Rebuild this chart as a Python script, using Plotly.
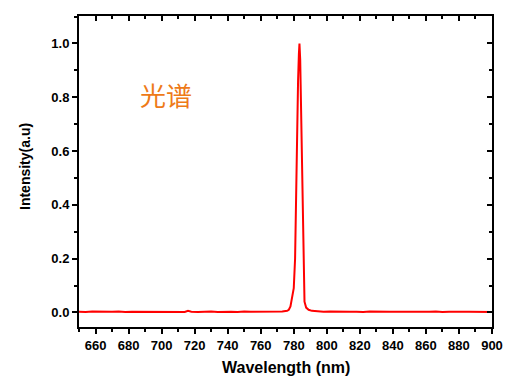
import plotly.graph_objects as go

# Wavelength (nm) and normalized intensity
wavelength = [650, 654, 658, 662, 666, 670, 674, 678, 682, 686, 690, 694, 698, 702, 706,
              710, 714, 716, 718, 722, 726, 730, 734, 738, 742, 746, 750, 754, 758, 762,
              766, 770, 773, 776, 777, 778, 779, 780, 780.8, 781.4, 782, 782.6, 783.1,
              783.45, 783.9, 784.4, 784.9, 785.4, 785.9, 786.5, 787.5, 789, 791, 794,
              798, 802, 806, 810, 814, 818, 822, 826, 830, 834, 838, 842, 846, 850,
              854, 858, 862, 866, 870, 874, 878, 882, 886, 890, 894, 898, 900]
intensity = [0.003, 0.002, 0.004, 0.003, 0.002, 0.003, 0.004, 0.002, 0.003, 0.003, 0.002, 0.004, 0.003, 0.002, 0.003,
             0.003, 0.002, 0.006, 0.003, 0.002, 0.003, 0.004, 0.002, 0.003, 0.003, 0.002, 0.004, 0.003, 0.003, 0.002,
             0.003, 0.004, 0.004, 0.006, 0.010, 0.022, 0.050, 0.090, 0.20, 0.45, 0.68, 0.86, 0.96,
             1.00, 0.94, 0.76, 0.52, 0.28, 0.11, 0.04, 0.018, 0.010, 0.006, 0.004,
             0.003, 0.004, 0.003, 0.002, 0.003, 0.003, 0.002, 0.004, 0.003, 0.002, 0.003, 0.003, 0.002, 0.003,
             0.003, 0.002, 0.003, 0.004, 0.002, 0.003, 0.002, 0.003, 0.003, 0.002, 0.003, 0.002, 0.002]

x_range = [650, 900]
y_range = [-0.054, 1.102]
x_ticks = [660, 680, 700, 720, 740, 760, 780, 800, 820, 840, 860, 880, 900]
y_ticks = [0.0, 0.2, 0.4, 0.6, 0.8, 1.0]
y_tick_labels = ["0.0", "0.2", "0.4", "0.6", "0.8", "1.0"]
annotation_text = "光谱"
annotation_pos = (702.8, 0.81)
x_title = "Wavelength (nm)"
y_title = "Intensity(a.u)"

font_main = "Liberation Sans, Arial, sans-serif"

# page body has an 8px default margin, so the figure is drawn 8px smaller / shifted
OFF = 8
W, H = 511 - OFF, 387 - OFF
ML, MR, MT, MB = 79 - OFF, 19, 16 - OFF, 60

fig = go.Figure()
fig.add_trace(go.Scatter(x=wavelength, y=intensity, mode="lines",
                         line=dict(color="#FF0000", width=2), showlegend=False,
                         hoverinfo="skip"))
# invisible trace so that the mirrored (top/right) axes are drawn
fig.add_trace(go.Scatter(x=[x_range[0]], y=[y_range[0]], xaxis="x2", yaxis="y2",
                         mode="markers", marker=dict(opacity=0), showlegend=False,
                         hoverinfo="skip"))

axis_common = dict(showgrid=False, zeroline=False, showline=True, linecolor="black",
                   linewidth=2, tickcolor="black", tickwidth=1.5, automargin=False)

fig.update_layout(
    width=W, height=H,
    margin=dict(l=ML, r=MR, t=MT, b=MB, autoexpand=False),
    paper_bgcolor="white", plot_bgcolor="white",
    font=dict(family=font_main, color="black"),
    xaxis=dict(range=x_range, tickvals=x_ticks, ticks="outside", ticklen=5,
               minor=dict(dtick=10, tick0=650, ticks="outside", ticklen=3, tickcolor="black", tickwidth=1.5),
               tickfont=dict(size=13, family=font_main, weight="bold"),
               **axis_common),
    yaxis=dict(range=y_range, tickvals=y_ticks, ticktext=y_tick_labels, ticks="outside", ticklen=5,
               minor=dict(dtick=0.1, tick0=0, ticks="outside", ticklen=3, tickcolor="black", tickwidth=1.5),
               tickfont=dict(size=13, family=font_main, weight="bold"),
               **axis_common),
    xaxis2=dict(range=x_range, overlaying="x", side="top", tickvals=x_ticks, ticks="inside",
                ticklen=5, showticklabels=False,
                minor=dict(dtick=10, tick0=650, ticks="inside", ticklen=3, tickcolor="black", tickwidth=1.5),
                **axis_common),
    yaxis2=dict(range=y_range, overlaying="y", side="right", tickvals=y_ticks, ticks="inside",
                ticklen=5, showticklabels=False,
                minor=dict(dtick=0.1, tick0=0, ticks="inside", ticklen=3, tickcolor="black", tickwidth=1.5),
                **axis_common),
)

plot_w = W - ML - MR
plot_h = H - MT - MB

fig.add_annotation(x=annotation_pos[0], y=annotation_pos[1], xref="x", yref="y",
                   text=annotation_text, showarrow=False,
                   font=dict(family="Noto Sans CJK SC", size=26, color="#EE7A18"))
# titles placed at page pixel positions (converted to paper coordinates)
fig.add_annotation(x=0.5, y=(H - MB - (367 - OFF)) / plot_h, xref="paper", yref="paper",
                   text=x_title, showarrow=False, xanchor="center", yanchor="middle",
                   font=dict(size=16, family=font_main, weight="bold"))
fig.add_annotation(x=((25 - OFF) - ML) / plot_w, y=(H - MB - (167 - OFF)) / plot_h,
                   xref="paper", yref="paper", text=y_title, showarrow=False,
                   xanchor="center", yanchor="middle",
                   textangle=-90, font=dict(size=14, family=font_main, weight="bold"))

fig.write_html("out.html")
